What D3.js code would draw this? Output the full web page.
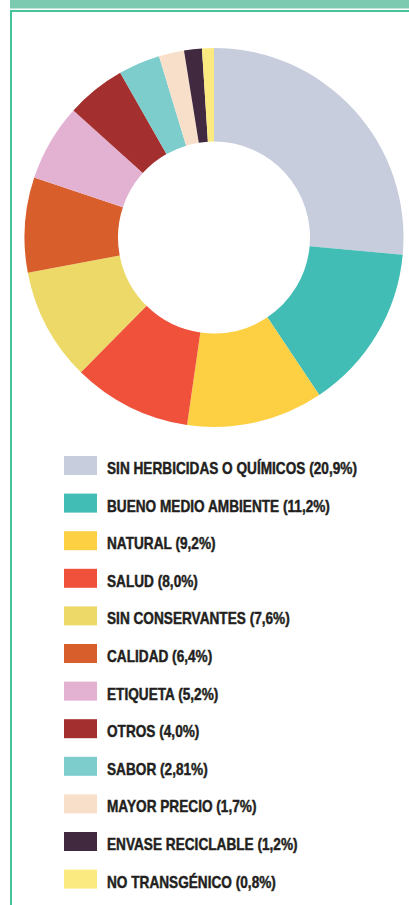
<!DOCTYPE html>
<html>
<head>
<meta charset="utf-8">
<script src="https://cdn.jsdelivr.net/npm/d3@7"></script>
<style>
  html, body { margin: 0; padding: 0; background: #fff; }
  svg { display: block; }
  .legend-label {
    font-family: "Liberation Sans", Arial, sans-serif;
    font-weight: bold;
    font-size: 16px;
    fill: #231f20;
    stroke: #231f20;
    stroke-width: 0.45px;
  }
</style>
</head>
<body>
<div id="chart"></div>
<script>
// categories, values (%) and colours, in drawing order
var categories = [
  "SIN HERBICIDAS O QUÍMICOS", "BUENO MEDIO AMBIENTE", "NATURAL", "SALUD",
  "SIN CONSERVANTES", "CALIDAD", "ETIQUETA", "OTROS", "SABOR",
  "MAYOR PRECIO", "ENVASE RECICLABLE", "NO TRANSGÉNICO"
];
var values = [20.9, 11.2, 9.2, 8.0, 7.6, 6.4, 5.2, 4.0, 2.81, 1.7, 1.2, 0.8];
var valueLabels = ["20,9%", "11,2%", "9,2%", "8,0%", "7,6%", "6,4%", "5,2%", "4,0%", "2,81%", "1,7%", "1,2%", "0,8%"];
var colors = [
  "#c7cddc", "#42bdb5", "#fdd043", "#f0513b", "#ecd967", "#d85e2b",
  "#e3b2d3", "#a3302e", "#7ccdcc", "#f8dfca", "#41293f", "#fbea80"
];

var width = 409, height = 905;

var data = categories.map(function(c, i) {
    return { name: c, value: values[i], label: valueLabels[i], color: colors[i] };
});

var svg = d3.select("#chart").append("svg")
    .attr("width", width)
    .attr("height", height);

// frame: green band on top, thin top and left rules
svg.append("rect")
    .attr("x", 10).attr("y", 0)
    .attr("width", width - 10).attr("height", 8.5)
    .attr("fill", "#7ccbb0");
svg.append("rect")
    .attr("x", 10).attr("y", 10)
    .attr("width", width - 10).attr("height", 2)
    .attr("fill", "#45c49b");
svg.append("rect")
    .attr("x", 10).attr("y", 10)
    .attr("width", 2).attr("height", height - 10)
    .attr("fill", "#45c49b");

// donut
var cx = 214, cy = 237.5, outerR = 189.5, innerR = 96;

var pie = d3.pie()
    .sort(null)
    .value(function(d) { return d.value; });

var arc = d3.arc()
    .innerRadius(innerR)
    .outerRadius(outerR);

var g = svg.append("g")
    .attr("transform", "translate(" + cx + "," + cy + ")");

g.selectAll("path")
    .data(pie(data))
    .enter().append("path")
    .attr("d", arc)
    .attr("fill", function(d) { return d.data.color; });

// legend
var legendTop = 465.5, rowStep = 37.6;

var y = d3.scalePoint()
    .domain(categories)
    .range([legendTop, legendTop + rowStep * (categories.length - 1)]);

var rows = svg.append("g").selectAll("g")
    .data(data)
    .enter().append("g")
    .attr("transform", function(d) { return "translate(0," + y(d.name) + ")"; });

rows.append("rect")
    .attr("x", 64)
    .attr("y", -9.5)
    .attr("width", 33)
    .attr("height", 19)
    .attr("fill", function(d) { return d.color; });

var labels = rows.append("text")
    .attr("class", "legend-label")
    .attr("x", 0)
    .attr("y", 8.5)
    .text(function(d) { return d.name + " (" + d.label + ")"; });

// squeeze the labels horizontally to get a condensed face
var longest = labels.nodes()[0].getComputedTextLength();
var k = 250 / longest;
labels.attr("transform", "translate(107,0) scale(" + k + ",1)");
</script>
</body>
</html>
